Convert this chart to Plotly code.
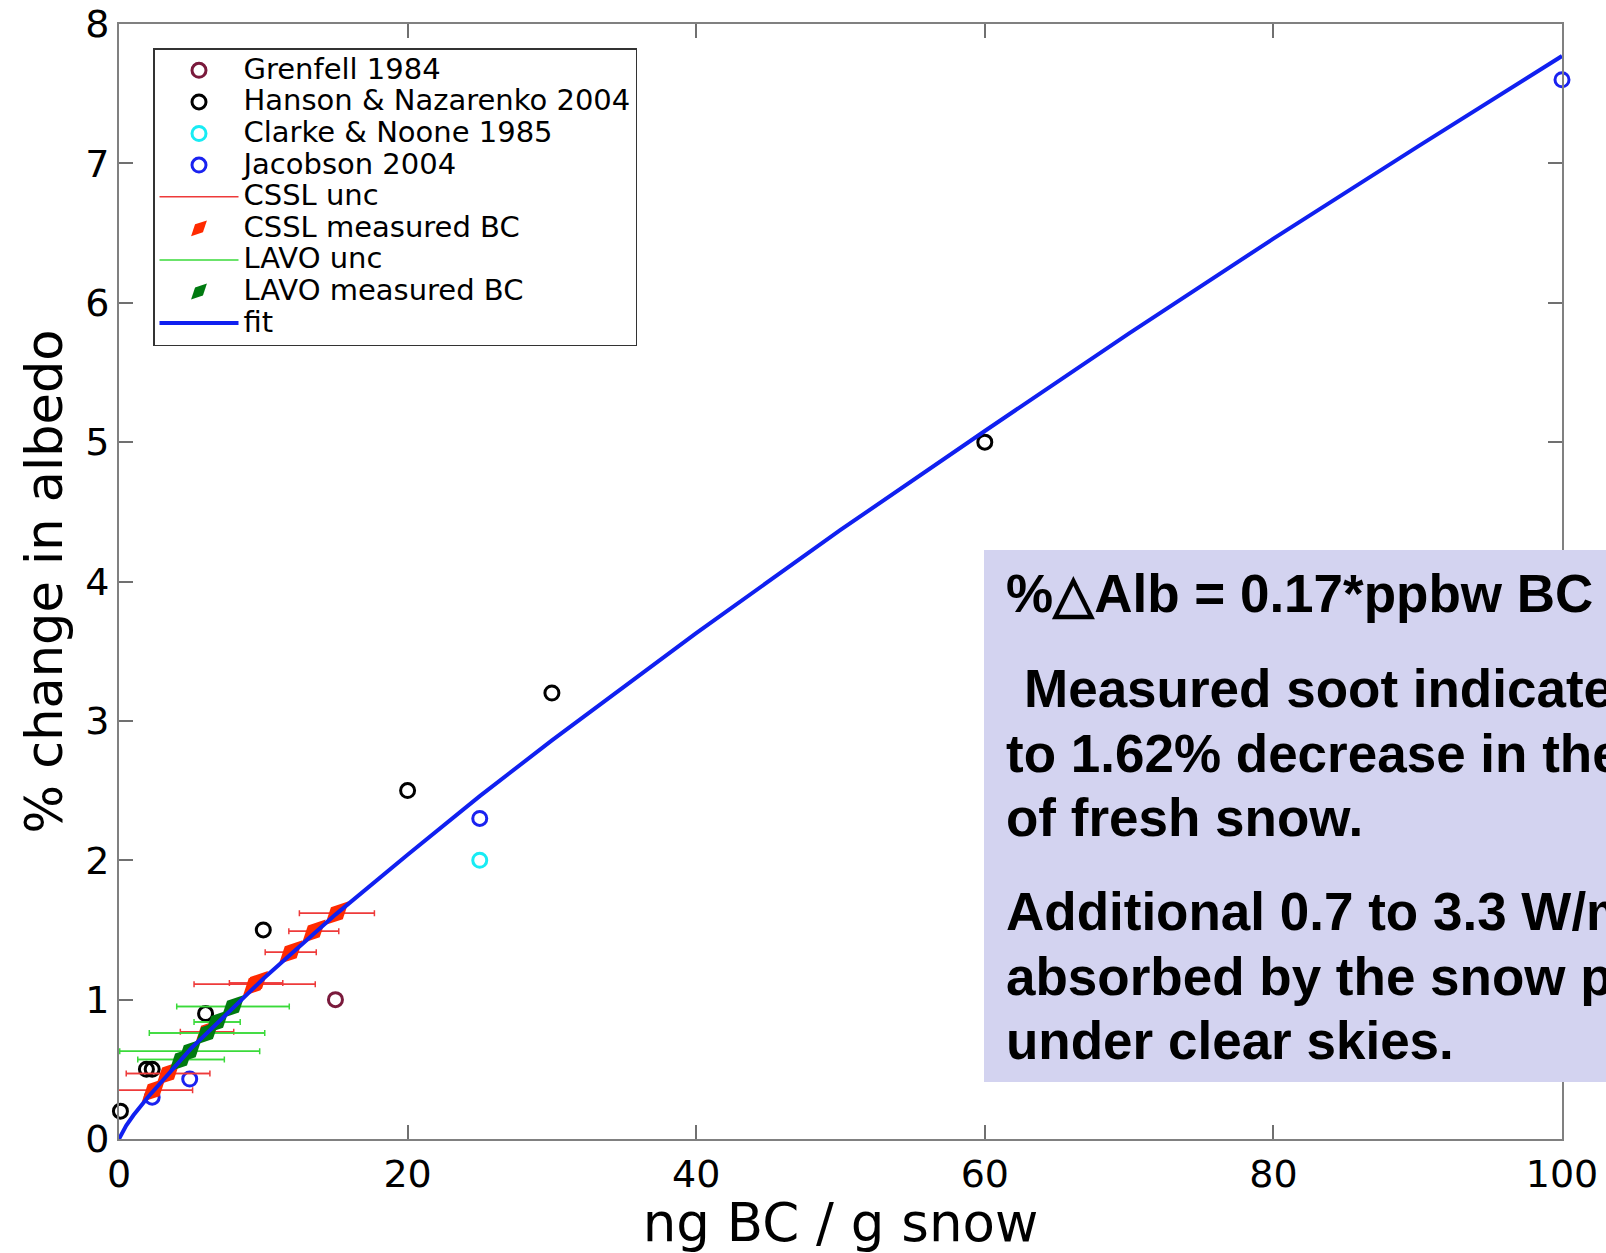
import plotly.graph_objects as go

# ---------------- data ----------------
grenfell_x = [15.0]
grenfell_y = [1.0]

hanson_x = [0.1, 1.9, 2.3, 6.0, 10.0, 20.0, 30.0, 60.0]
hanson_y = [0.2, 0.5, 0.5, 0.9, 1.5, 2.5, 3.2, 5.0]

clarke_x = [25.0]
clarke_y = [2.0]

jacobson_x = [2.3, 4.9, 25.0, 100.0]
jacobson_y = [0.3, 0.43, 2.3, 7.6]

cssl_x = [2.4, 3.4, 6.1, 9.4, 9.5, 11.9, 13.5, 15.1]
cssl_y = [0.35, 0.47, 0.77, 1.11, 1.12, 1.34, 1.49, 1.62]
cssl_err = [2.7, 2.9, 1.85, 4.2, 1.85, 1.77, 1.73, 2.6]

lavo_x = [4.3, 4.9, 6.1, 6.8, 7.9]
lavo_y = [0.57, 0.63, 0.76, 0.84, 0.95]
lavo_err = [3.0, 4.85, 4.0, 1.6, 3.9]

fit_x = [0, 0.5, 1, 2, 5, 10, 15, 20, 25, 30, 40, 50, 60, 70, 80, 90, 100]
fit_y = [0, 0.096, 0.17, 0.30, 0.65, 1.15, 1.61, 2.04, 2.46, 2.86, 3.63, 4.37,
         5.08, 5.78, 6.46, 7.12, 7.77]

x_ticks = [0, 20, 40, 60, 80, 100]
y_ticks = [0, 1, 2, 3, 4, 5, 6, 7, 8]

series_names = ["Grenfell 1984", "Hanson &amp; Nazarenko 2004", "Clarke &amp; Noone 1985",
                "Jacobson 2004", "CSSL unc", "CSSL measured BC", "LAVO unc",
                "LAVO measured BC", "fit"]

box_lines = [
    "%\u25b3Alb = 0.17*ppbw BC",
    "Measured soot indicate",
    "to 1.62% decrease in the",
    "of fresh snow.",
    "Additional 0.7 to 3.3 W/m",
    "absorbed by the snow p",
    "under clear skies.",
]

# ---------------- layout geometry (pixels) ----------------
W, H = 1606, 1253
L, R, T, B = 119, 44, 24, 114
PW, PH = W - L - R, H - T - B


def px_x(px):
    return (px - L) / PW


def px_y(py):
    return (H - B - py) / PH


def segs(xs, ys, errs):
    sx, sy = [], []
    for x, y, e in zip(xs, ys, errs):
        sx += [x - e, x + e, None]
        sy += [y, y, None]
    return sx, sy


def lname(s):
    # larger glyphs inside a legend whose row spacing follows legend.font.size
    return '<span style="font-size:29px">' + s + '</span>'


def circ(color):
    return dict(symbol="circle-open", size=14, color=color, line=dict(width=3, color=color))


fig = go.Figure()

fig.add_trace(go.Scatter(x=grenfell_x, y=grenfell_y, mode="markers", name=lname(series_names[0]),
                         marker=circ("#7a1a3c"), cliponaxis=False))
fig.add_trace(go.Scatter(x=hanson_x, y=hanson_y, mode="markers", name=lname(series_names[1]),
                         marker=circ("black"), cliponaxis=False))
fig.add_trace(go.Scatter(x=clarke_x, y=clarke_y, mode="markers", name=lname(series_names[2]),
                         marker=circ("#18ecf4"), cliponaxis=False))
fig.add_trace(go.Scatter(x=jacobson_x, y=jacobson_y, mode="markers", name=lname(series_names[3]),
                         marker=circ("#1a22f0"), cliponaxis=False))

csx, csy = segs(cssl_x, cssl_y, cssl_err)
fig.add_trace(go.Scatter(x=csx, y=csy, mode="lines", name=lname(series_names[4]),
                         line=dict(color="#ee3a3a", width=1.5)))
fig.add_trace(go.Scatter(x=cssl_x, y=cssl_y, mode="markers", name=lname(series_names[5]),
                         marker=dict(symbol="diamond-tall", size=24, angle=45, color="#ff2a00",
                                     line=dict(width=0)),
                         error_x=dict(type="data", array=cssl_err, color="#ee3a3a",
                                      thickness=1.5, width=3)))

lvx, lvy = segs(lavo_x, lavo_y, lavo_err)
fig.add_trace(go.Scatter(x=lvx, y=lvy, mode="lines", name=lname(series_names[6]),
                         line=dict(color="#3ada3a", width=1.5)))
fig.add_trace(go.Scatter(x=lavo_x, y=lavo_y, mode="markers", name=lname(series_names[7]),
                         marker=dict(symbol="diamond-tall", size=24, angle=45, color="#007a10",
                                     line=dict(width=0)),
                         error_x=dict(type="data", array=lavo_err, color="#3ada3a",
                                      thickness=1.5, width=3)))

fig.add_trace(go.Scatter(x=fit_x, y=fit_y, mode="lines", name=lname(series_names[8]),
                         line=dict(color="#1020f0", width=4)))

axis_common = dict(
    showline=True, linecolor="#808080", linewidth=2, mirror="ticks",
    ticks="inside", ticklen=14, tickwidth=1.5, tickcolor="#707070",
    showgrid=False, zeroline=False, automargin=False,
    tickfont=dict(family="DejaVu Sans", size=38, color="black"),
)

fig.update_layout(
    width=W, height=H,
    margin=dict(l=L, r=R, t=T, b=B, pad=0, autoexpand=False),
    paper_bgcolor="white", plot_bgcolor="white",
    xaxis=dict(axis_common, range=[0, 100], tickvals=x_ticks,
               title=dict(text="ng BC / g snow", standoff=6,
                          font=dict(family="DejaVu Sans", size=53, color="black"))),
    yaxis=dict(axis_common, range=[0, 8], tickvals=y_ticks,
               title=dict(text="% change in albedo", standoff=6,
                          font=dict(family="DejaVu Sans", size=51, color="black"))),
    legend=dict(x=px_x(153), y=px_y(48), xanchor="left", yanchor="top",
                bgcolor="white", bordercolor="#333333", borderwidth=1.5,
                font=dict(family="DejaVu Sans", size=22, color="black"),
                itemwidth=79, tracegroupgap=0),
    showlegend=True,
)

# annotation box
fig.add_shape(type="rect", xref="paper", yref="paper",
              x0=px_x(984), x1=px_x(1640), y0=px_y(1082), y1=px_y(550),
              fillcolor="#d3d3f0", line=dict(width=0), layer="above")

line_y = [594, 689, 753, 817, 911, 976, 1040]
line_x = [1004, 1022, 1004, 1004, 1004, 1004, 1004]
for txt, lx, ly in zip(box_lines, line_x, line_y):
    fig.add_annotation(xref="paper", yref="paper", x=px_x(lx), y=px_y(ly),
                       xanchor="left", yanchor="middle", showarrow=False,
                       text="<b>" + txt + "</b>",
                       font=dict(family="Liberation Sans, Arial, sans-serif", size=53, color="black"))

fig.write_html("out.html")
